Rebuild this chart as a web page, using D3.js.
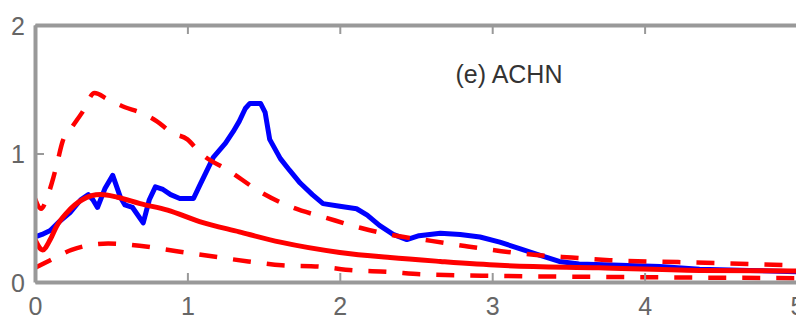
<!DOCTYPE html>
<html>
<head>
<meta charset="utf-8">
<script src="https://cdn.jsdelivr.net/npm/d3@7"></script>
<style>
  html, body { margin: 0; padding: 0; background: #fff; }
  svg { display: block; }
  text { font-family: "Liberation Sans", Arial, sans-serif; }
</style>
</head>
<body>
<div id="chart"></div>
<script>
// Observed response (blue)
const obsX = [0, 0.046, 0.10, 0.16, 0.23, 0.30, 0.35, 0.38, 0.41, 0.46, 0.51, 0.56, 0.59, 0.64, 0.71, 0.75, 0.79, 0.84, 0.89, 0.95, 1.04, 1.08, 1.17, 1.25, 1.30, 1.34, 1.38, 1.41, 1.48, 1.51, 1.54, 1.61, 1.67, 1.74, 1.82, 1.89, 2.00, 2.11, 2.18, 2.26, 2.35, 2.44, 2.52, 2.66, 2.79, 2.92, 3.05, 3.18, 3.31, 3.44, 3.57, 3.84, 4.10, 4.36, 4.69, 5.0];
const obsY = [0.35, 0.37, 0.40, 0.47, 0.54, 0.64, 0.68, 0.64, 0.58, 0.73, 0.83, 0.66, 0.60, 0.58, 0.46, 0.64, 0.74, 0.72, 0.68, 0.65, 0.65, 0.75, 0.97, 1.08, 1.17, 1.25, 1.35, 1.39, 1.39, 1.32, 1.11, 0.96, 0.87, 0.77, 0.68, 0.61, 0.59, 0.57, 0.52, 0.44, 0.37, 0.33, 0.36, 0.38, 0.37, 0.35, 0.31, 0.26, 0.21, 0.16, 0.14, 0.13, 0.12, 0.10, 0.09, 0.08];

// Median prediction (red solid)
const medX = [0, 0.05, 0.10, 0.14, 0.21, 0.31, 0.43, 0.54, 0.69, 0.87, 1.08, 1.34, 1.61, 2.00, 2.33, 2.66, 3.05, 3.70, 4.36, 5.0];
const medY = [0.33, 0.25, 0.33, 0.43, 0.54, 0.64, 0.68, 0.66, 0.61, 0.56, 0.47, 0.39, 0.31, 0.23, 0.19, 0.16, 0.13, 0.11, 0.09, 0.085];

// Upper bound (red dashed)
const upX = [0, 0.04, 0.08, 0.12, 0.15, 0.18, 0.24, 0.31, 0.39, 0.48, 0.59, 0.69, 0.80, 0.90, 1.00, 1.08, 1.28, 1.48, 1.69, 1.91, 2.14, 2.37, 2.60, 2.82, 3.06, 3.29, 3.52, 3.77, 4.22, 4.69, 5.0];
const upY = [0.65, 0.57, 0.66, 0.81, 0.95, 1.09, 1.20, 1.32, 1.47, 1.42, 1.36, 1.32, 1.25, 1.16, 1.11, 1.01, 0.86, 0.70, 0.58, 0.50, 0.42, 0.36, 0.32, 0.28, 0.24, 0.21, 0.19, 0.17, 0.155, 0.14, 0.13];

// Lower bound (red dashed)
const loX = [0, 0.10, 0.24, 0.48, 0.70, 0.93, 1.16, 1.40, 1.62, 1.86, 2.09, 2.31, 2.54, 3.05, 3.70, 5.0];
const loY = [0.11, 0.17, 0.25, 0.30, 0.28, 0.24, 0.20, 0.16, 0.13, 0.12, 0.09, 0.08, 0.06, 0.047, 0.04, 0.03];

const xTicks = [0, 1, 2, 3, 4, 5];
const yTicks = [0, 1, 2];
const title = "(e) ACHN";

const W = 796, H = 322;
const margin = { left: 35, top: 25, right: -1, bottom: 40 };

const x = d3.scaleLinear().domain([0, 5]).range([margin.left, W - margin.right]);
const y = d3.scaleLinear().domain([0, 2]).range([H - margin.bottom, margin.top]);

const svg = d3.select("#chart").append("svg")
  .attr("width", W).attr("height", H);

svg.append("defs").append("clipPath").attr("id", "plot-clip")
  .append("rect")
  .attr("x", x(0)).attr("y", y(2))
  .attr("width", x(5) - x(0)).attr("height", y(0) - y(2));

const zip = (xs, ys) => xs.map((v, i) => [v, ys[i]]);

const lineLinear = d3.line().x(d => x(d[0])).y(d => y(d[1]));
const lineSmooth = d3.line().x(d => x(d[0])).y(d => y(d[1])).curve(d3.curveMonotoneX);

const plot = svg.append("g").attr("clip-path", "url(#plot-clip)");

plot.append("path")
  .attr("d", lineLinear(zip(obsX, obsY)))
  .attr("fill", "none").attr("stroke", "#0000ff")
  .attr("stroke-width", 5).attr("stroke-linejoin", "round");

plot.append("path")
  .attr("d", lineSmooth(zip(medX, medY)))
  .attr("fill", "none").attr("stroke", "#ff0000")
  .attr("stroke-width", 5).attr("stroke-linejoin", "round");

[[upX, upY], [loX, loY]].forEach(([xs, ys]) => {
  plot.append("path")
    .attr("d", lineSmooth(zip(xs, ys)))
    .attr("fill", "none").attr("stroke", "#ff0000")
    .attr("stroke-width", 4.5)
    .attr("stroke-dasharray", "18,16");
});

// Axes: boxed frame with inward ticks
const axisColor = "#999";
const tickLen = 9;

const gBottom = svg.append("g").attr("transform", `translate(0,${y(0)})`)
  .call(d3.axisBottom(x).tickValues(xTicks).tickSizeInner(-tickLen).tickSizeOuter(0).tickPadding(15).tickFormat(d3.format("d")));
const gTop = svg.append("g").attr("transform", `translate(0,${y(2)})`)
  .call(d3.axisTop(x).tickValues(xTicks).tickSizeInner(-tickLen).tickSizeOuter(0).tickFormat(""));
const gLeft = svg.append("g").attr("transform", `translate(${x(0)},0)`)
  .call(d3.axisLeft(y).tickValues(yTicks).tickSizeInner(-tickLen).tickSizeOuter(0).tickPadding(10).tickFormat(d3.format("d")));

[gBottom, gTop, gLeft].forEach(g => {
  g.select(".domain").attr("stroke", axisColor).attr("stroke-width", 4);
  g.selectAll(".tick line").attr("stroke", axisColor).attr("stroke-width", 2);
  g.selectAll(".tick text").attr("fill", "#666").style("font-size", "25px");
});
gBottom.selectAll(".tick text").attr("dy", "0.71em");
gLeft.selectAll(".tick text").attr("dy", "0.36em");

svg.append("text")
  .attr("x", 509).attr("y", 83)
  .attr("text-anchor", "middle")
  .attr("fill", "#333")
  .style("font-size", "25px")
  .text(title);
</script>
</body>
</html>
